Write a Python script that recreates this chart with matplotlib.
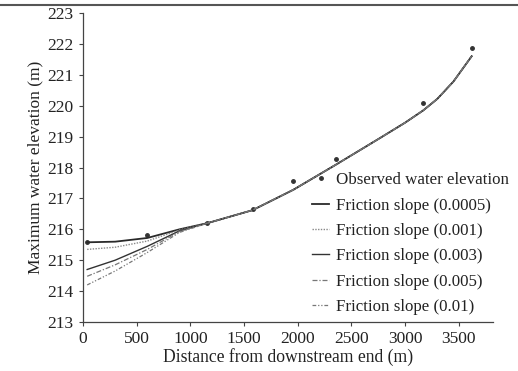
import matplotlib
matplotlib.use('Agg')
import matplotlib.pyplot as plt
from matplotlib.lines import Line2D

plt.rcParams['font.family'] = ['Liberation Serif', 'DejaVu Serif']

# Observed points
obs_x = [40, 600, 1160, 1580, 1960, 2360, 3170, 3620]
obs_y = [215.58, 215.82, 216.19, 216.66, 217.56, 218.27, 220.08, 221.87]

# Simulated profiles
dist = [40, 300, 600, 900, 1160, 1580, 1960, 2360, 2765, 3000, 3170, 3300, 3450, 3620]
upper = [216.2, 216.62, 217.28, 218.1, 218.95, 219.45, 219.85, 220.22, 220.78, 221.6]
fs_0005 = [215.58, 215.6, 215.72, 216.0] + upper
fs_001  = [215.35, 215.42, 215.62, 215.98] + upper
fs_003  = [214.7, 215.0, 215.45, 215.95] + upper
fs_005  = [214.48, 214.85, 215.35, 215.93] + upper
fs_01   = [214.2, 214.65, 215.25, 215.9] + upper

fig = plt.figure(figsize=(5.18, 3.71), dpi=100)
ax = fig.add_axes([0.160, 0.132, 0.792, 0.833])

ax.plot(obs_x, obs_y, linestyle='none', marker='o', markersize=2.5,
        color='#333333', label='Observed water elevation')
ax.plot(dist, fs_0005, color='#2a2a2a', linewidth=1.3, label='Friction slope (0.0005)')
ax.plot(dist, fs_001, color='#888888', linewidth=1.0, linestyle=(0, (1, 1)),
        label='Friction slope (0.001)')
ax.plot(dist, fs_003, color='#333333', linewidth=1.0, label='Friction slope (0.003)')
ax.plot(dist, fs_005, color='#777777', linewidth=0.9, linestyle=(0, (4, 1.5, 1, 1.5)),
        label='Friction slope (0.005)')
ax.plot(dist, fs_01, color='#777777', linewidth=0.9, linestyle=(0, (3, 1.5, 1, 1.5, 1, 1.5)),
        label='Friction slope (0.01)')

ax.set_xlim(0, 3820)
ax.set_ylim(213, 223)
ax.set_xticks(range(0, 4000, 500))
ax.set_yticks(range(213, 224))
ax.spines['top'].set_visible(False)
ax.spines['right'].set_visible(False)
for s in ['left', 'bottom']:
    ax.spines[s].set_color('#444444')
    ax.spines[s].set_linewidth(0.9)
ax.tick_params(direction='out', length=3, width=0.8, color='#444444',
               labelsize=12.5, labelcolor='#222222')
ax.set_xlabel('Distance from downstream end (m)', fontsize=12.7, color='#222222', labelpad=1)
ax.set_ylabel('Maximum water elevation (m)', fontsize=12.5, color='#222222', labelpad=3)

ax.legend(loc='upper left', bbox_to_anchor=(0.538, 0.512), frameon=False,
          fontsize=12.2, handlelength=1.0, handletextpad=0.4, labelspacing=0.55,
          borderpad=0, labelcolor='#222222')

# scanned page border at the top
fig.add_artist(Line2D([0, 1], [0.986, 0.986], color='#555555', linewidth=1.5))

plt.savefig('out.png', dpi=100)
